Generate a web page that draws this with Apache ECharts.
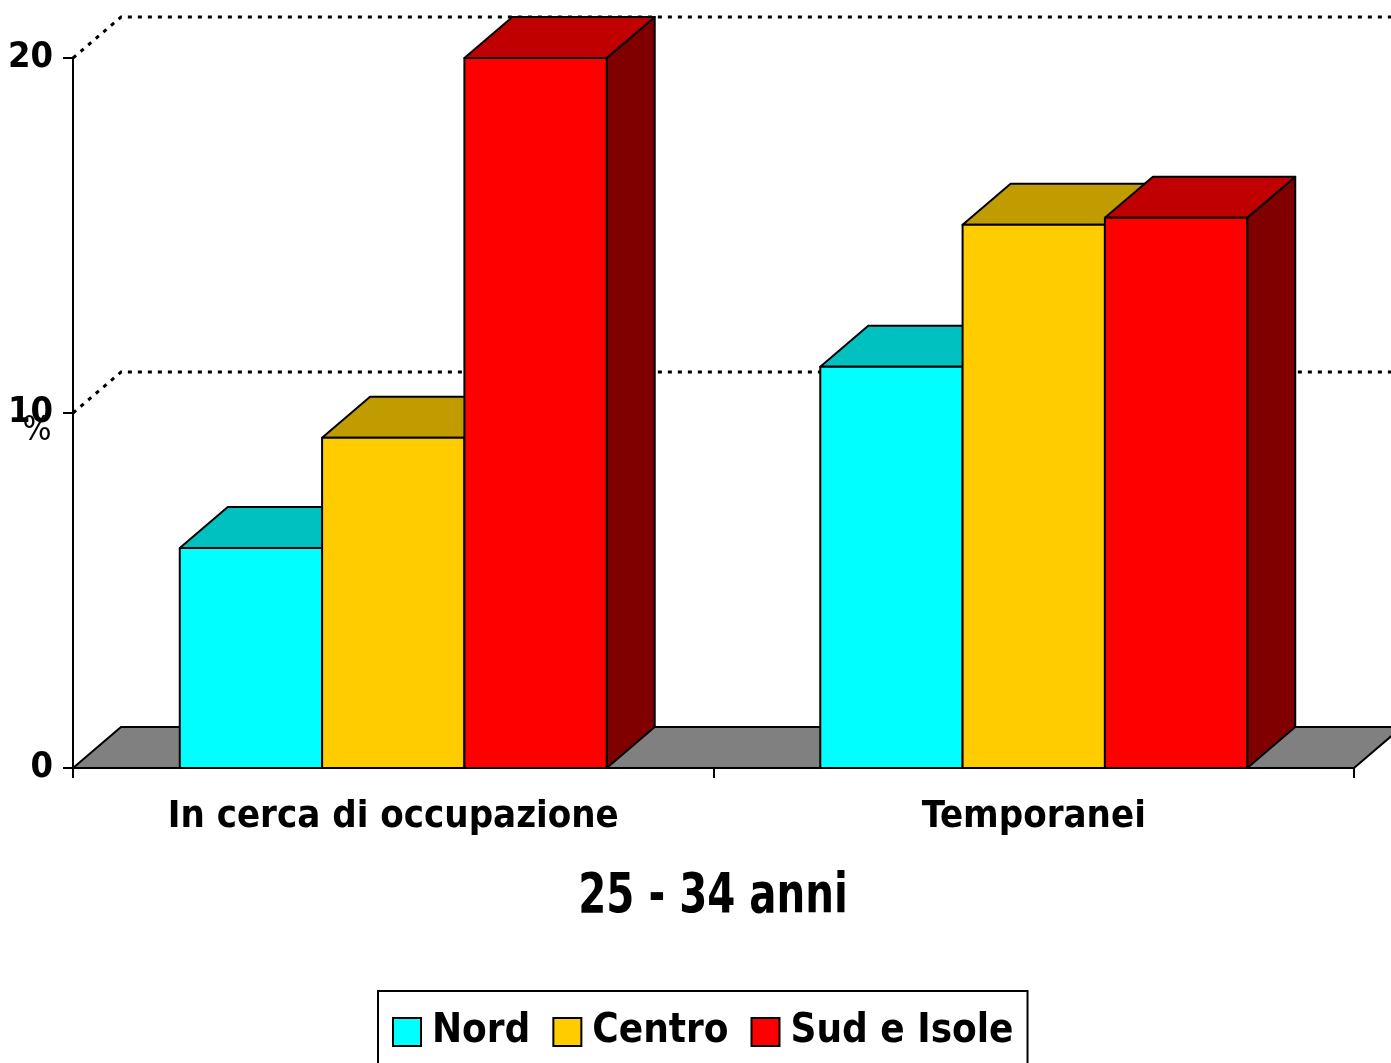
<!DOCTYPE html>
<html>
<head>
    <meta charset="utf-8">
    <title>25 - 34 anni</title>
    <script src="https://cdn.jsdelivr.net/npm/echarts@6/dist/echarts.min.js"></script>
    <style>
        html, body { margin: 0; padding: 0; background: #fff; }
        #chart1 { width: 1391px; height: 1063px; }
    </style>
</head>
<body>
<div id="chart1"></div>
<script type="text/javascript">
    // dati
    var categories = ['In cerca di occupazione', 'Temporanei'];
    var seriesNames = ['Nord', 'Centro', 'Sud e Isole'];
    var nord = [6.2, 11.3];
    var centro = [9.3, 15.3];
    var sud = [20.0, 15.5];
    var yTicks = [0, 10, 20];

    var FONT = '"Liberation Sans Narrow", "DejaVu Sans Condensed", "Liberation Sans", sans-serif';
    var DX = 48, DY = 41;   // profondita' 3D
    var frontColors = ['#00FFFF', '#FFCC00', '#FF0000'];
    var topColors = ['#00C0C0', '#C09C00', '#C00000'];
    var sideColors = ['#008080', '#806600', '#800000'];

    var myChart1 = echarts.init(document.getElementById('chart1'));

    function toPairs(arr) {
        return arr.map(function (v, i) { return [i, v]; });
    }

    // barra 3D: faccia frontale, superiore e laterale
    function bar3d(k) {
        return function (params, api) {
            var idx = api.value(0);
            var val = api.value(1);
            var base = api.coord([idx, 0]);
            var top = api.coord([idx, val]);
            var band = api.size([1, 0])[0];
            var bw = band * 0.2222;
            var x0 = base[0] + (k - 1.5) * bw;
            var x1 = x0 + bw;
            var y0 = base[1], y1 = top[1];
            var edge = { stroke: '#000', lineWidth: 2, lineJoin: 'round' };
            return {
                type: 'group',
                children: [
                    {
                        type: 'polygon',
                        shape: { points: [[x1, y1], [x1 + DX, y1 - DY], [x1 + DX, y0 - DY], [x1, y0]] },
                        style: Object.assign({ fill: sideColors[k] }, edge)
                    },
                    {
                        type: 'polygon',
                        shape: { points: [[x0, y1], [x0 + DX, y1 - DY], [x1 + DX, y1 - DY], [x1, y1]] },
                        style: Object.assign({ fill: topColors[k] }, edge)
                    },
                    {
                        type: 'rect',
                        shape: { x: x0, y: y1, width: bw, height: y0 - y1 },
                        style: Object.assign({ fill: frontColors[k] }, edge)
                    }
                ]
            };
        };
    }

    // pavimento e griglia sulla parete di fondo
    function frame(params, api) {
        var cs = params.coordSys;
        var L = cs.x, R = cs.x + cs.width;
        var y0 = api.coord([0, 0])[1];
        var dotted = { stroke: '#000', lineWidth: 3, lineDash: [4, 6] };
        var children = [
            {
                type: 'polygon',
                shape: { points: [[L, y0], [L + DX, y0 - DY], [R + DX, y0 - DY], [R, y0]] },
                style: { fill: '#808080', stroke: '#000', lineWidth: 2 }
            }
        ];
        yTicks.forEach(function (v) {
            if (v === 0) return;
            var y = api.coord([0, v])[1];
            children.push({
                type: 'polyline',
                shape: { points: [[L, y], [L + DX, y - DY], [R + DX + 10, y - DY]] },
                style: Object.assign({ fill: null }, dotted)
            });
        });
        return { type: 'group', children: children };
    }

    var series = [
        {
            name: 'frame',
            type: 'custom',
            renderItem: frame,
            data: [[0, 0]],
            z: 1,
            silent: true
        }
    ];
    [nord, centro, sud].forEach(function (arr, k) {
        series.push({
            name: seriesNames[k],
            type: 'custom',
            renderItem: bar3d(k),
            data: toPairs(arr),
            encode: { x: 0, y: 1 },
            itemStyle: { color: frontColors[k] },
            z: 3 + k
        });
    });

    myChart1.setOption({
        animation: false,
        textStyle: { fontFamily: FONT },
        grid: { left: 73, right: 37, top: 58, bottom: 295, containLabel: false },
        xAxis: {
            type: 'category',
            data: categories,
            boundaryGap: true,
            axisLine: { show: true, lineStyle: { color: '#000', width: 2 } },
            axisTick: { show: true, length: 10, lineStyle: { color: '#000', width: 2 } },
            axisLabel: {
                margin: 30,
                color: '#000',
                fontSize: 38,
                fontWeight: 'bold',
                fontFamily: FONT
            },
            splitLine: { show: false }
        },
        yAxis: {
            type: 'value',
            min: 0,
            max: 20,
            interval: 10,
            axisLine: { show: true, lineStyle: { color: '#000', width: 2 } },
            axisTick: { show: true, length: 10, lineStyle: { color: '#000', width: 2 } },
            axisLabel: {
                margin: 20,
                color: '#000',
                fontSize: 36,
                fontWeight: 'bold',
                fontFamily: FONT
            },
            splitLine: { show: false }
        },
        legend: {
            data: seriesNames,
            left: 378,
            top: 991,
            orient: 'horizontal',
            icon: 'rect',
            itemWidth: 28,
            itemHeight: 28,
            itemGap: 22,
            padding: [21, 14, 30, 14],
            borderColor: '#000',
            borderWidth: 2,
            itemStyle: { borderColor: '#000', borderWidth: 2 },
            textStyle: { color: '#000', fontSize: 40, fontWeight: 'bold', fontFamily: FONT, padding: [0, 0, 0, 6] }
        },
        graphic: [
            {
                type: 'text',
                x: 713,
                y: 898,
                scaleX: 0.815,
                style: {
                    text: '25 - 34 anni',
                    fill: '#000',
                    font: 'bold 55px ' + FONT,
                    textAlign: 'center',
                    textVerticalAlign: 'middle'
                }
            },
            {
                type: 'text',
                x: 37,
                y: 431,
                style: {
                    text: '%',
                    fill: '#000',
                    font: '34px ' + FONT,
                    textAlign: 'center',
                    textVerticalAlign: 'middle'
                }
            }
        ],
        series: series
    });
</script>
</body>
</html>
